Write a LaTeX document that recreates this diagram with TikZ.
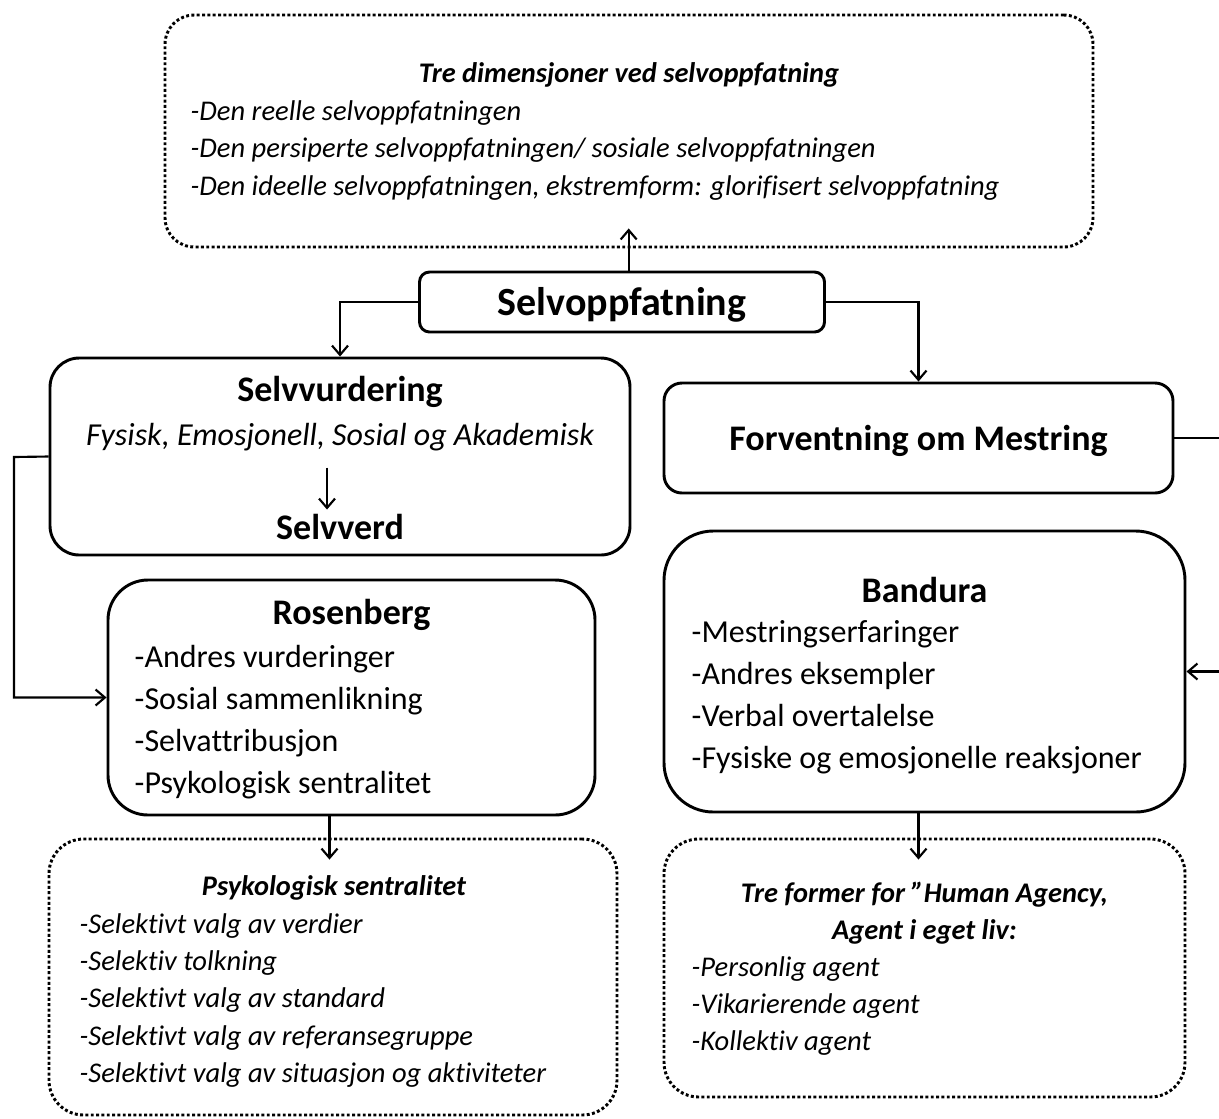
\documentclass[tikz,border=0pt]{standalone}
\usepackage{fontspec}
\setmainfont{Carlito}[Ligatures=NoCommon]
\usetikzlibrary{arrows.meta}

\newcommand{\pxu}{0.75pt}

\tikzset{
  solidbox/.style={draw, line width=2.2pt, rounded corners=#1, inner sep=0pt},
  dotbox/.style={draw, line width=2.2pt, dash pattern=on 2.2pt off 1.8pt, rounded corners=#1, inner sep=0pt},
  conn/.style={line width=1.6pt, -{Straight Barb[length=7pt,width=12pt]}},
  bigtitle/.style={font=\fontsize{30}{36}\selectfont\bfseries},
  btitle/.style={font=\fontsize{27}{32}\selectfont\bfseries},
  rlist/.style={font=\fontsize{24}{31.5}\selectfont, align=left, anchor=west},
  ititle/.style={font=\fontsize{21.3}{27.8}\selectfont\bfseries\itshape, align=center},
  ilist/.style={font=\fontsize{21.4}{27.8}\selectfont\itshape, align=left, anchor=west},
  fysline/.style={font=\fontsize{24}{28}\selectfont\itshape}
}

\begin{document}
\begin{tikzpicture}[x=0.75pt, y=-0.75pt]

    \useasboundingbox (0,0) rectangle (1219,1118);

    %Tre dimensjoner
    \node[dotbox=22pt, minimum width=928*\pxu, minimum height=232*\pxu] (dim) at (629,131) {};
    \node[ititle] (dimt) at (629,75) {Tre dimensjoner ved selvoppfatning};
    \node[ilist] (diml) at (186,150.5) {-Den reelle selvoppfatningen\\-Den persiperte selvoppfatningen/ sosiale selvoppfatningen\\-Den ideelle selvoppfatningen, ekstremform: glorifisert selvoppfatning};

    %Selvoppfatning
    \node[solidbox=7.5pt, minimum width=405*\pxu, minimum height=60*\pxu] (selvo) at (622,302) {};
    \node[bigtitle] (selvot) at (622,305) {Selvoppfatning};

    %Selvvurdering
    \node[solidbox=22pt, minimum width=580*\pxu, minimum height=197*\pxu] (selvv) at (340,456.5) {};
    \node[btitle] (selvvt) at (340,392) {Selvvurdering};
    \node[fysline] (fys) at (340,437) {Fysisk, Emosjonell, Sosial og Akademisk};
    \node[btitle] (verd) at (340,527) {Selvverd};

    %Forventning om Mestring
    \node[solidbox=13.5pt, minimum width=509*\pxu, minimum height=110*\pxu] (forv) at (918.5,438) {};
    \node[btitle] (forvt) at (918.5,441) {Forventning om Mestring};

    %Rosenberg
    \node[solidbox=30pt, minimum width=487*\pxu, minimum height=235*\pxu] (rosen) at (351.5,697.5) {};
    \node[btitle] (rosent) at (351.5,615) {Rosenberg};
    \node[rlist] (rosenl) at (130,722) {-Andres vurderinger\\-Sosial sammenlikning\\-Selvattribusjon\\-Psykologisk sentralitet};

    %Bandura
    \node[solidbox=37pt, minimum width=521*\pxu, minimum height=281*\pxu] (band) at (924.5,671.5) {};
    \node[btitle] (bandt) at (924.5,590) {Bandura};
    \node[rlist] (bandl) at (687,697.5) {-Mestringserfaringer\\-Andres eksempler\\-Verbal overtalelse\\-Fysiske og emosjonelle reaksjoner};

    %Psykologisk sentralitet
    \node[dotbox=26pt, minimum width=568*\pxu, minimum height=276*\pxu] (psyk) at (333,977) {};
    \node[ititle] (psykt) at (334,888) {Psykologisk sentralitet};
    \node[ilist] (psykl) at (75,1000.5) {-Selektivt valg av verdier\\-Selektiv tolkning\\-Selektivt valg av standard\\-Selektivt valg av referansegruppe\\-Selektivt valg av situasjon og aktiviteter};

    %Human Agency
    \node[dotbox=26pt, minimum width=521*\pxu, minimum height=258*\pxu] (agency) at (924.5,968) {};
    \node[ititle] (agencyt) at (924.5,913.5) {Tre former for ”Human Agency,\\Agent i eget liv:};
    \node[ilist] (agencyl) at (687,1006) {-Personlig agent\\-Vikarierende agent\\-Kollektiv agent};

    %arrows
    \draw[conn, shorten >=-15pt] ([xshift=5pt]selvo.north) -- ([xshift=5pt]selvo.north |- dim.south);
    \draw[conn] (selvo.west) -| (selvv.north);
    \draw[conn] (selvo.east) -| (forv.north);
    \draw[conn, shorten <=9pt] ([xshift=-9.75pt]fys.south) -- ([xshift=-9.75pt]fys.south |- verd.north);
    \coordinate (lft) at (14,457);
    \draw[conn] (selvv.west) -- (lft) |- (rosen.west);
    \coordinate (rgt) at (1245,438);
    \draw[conn] (forv.east) -- (rgt) |- (band.east);
    \draw[conn, shorten >=-16.5pt] ([xshift=-16.5pt]rosen.south) -- ([xshift=-16.5pt]rosen.south |- psyk.north);
    \draw[conn, shorten >=-16.5pt] ([xshift=-4.5pt]band.south) -- ([xshift=-4.5pt]band.south |- agency.north);

  \end{tikzpicture}
\end{document}
